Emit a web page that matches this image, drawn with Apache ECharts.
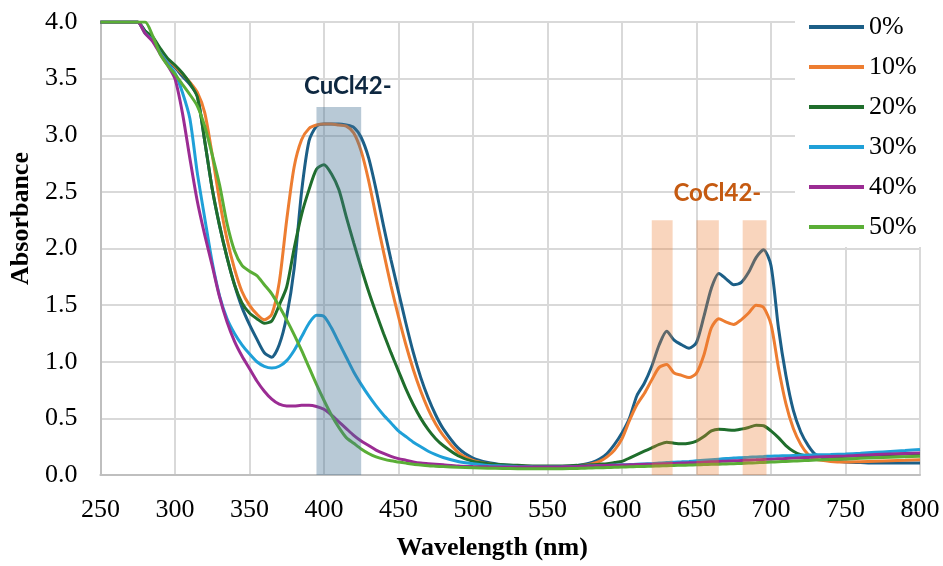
<!DOCTYPE html>
<html>
<head>
<meta charset="utf-8">
<script src="https://cdn.jsdelivr.net/npm/echarts@6/dist/echarts.min.js"></script>
<style>
  html, body { margin: 0; padding: 0; background: #fff; }
  #chart { width: 943px; height: 566px; }
</style>
</head>
<body>
<div id="chart"></div>
<script>
// wavelength (nm)
var wavelength = [
  250, 260, 270,
  275, 280, 285, 290, 295, 300, 305, 310, 315, 320,
  325, 330, 335, 340, 345, 350, 355, 360, 365, 370,
  375, 380, 385, 390, 395, 400, 405, 410, 415, 420,
  425, 430, 435, 440, 445, 450, 455, 460, 465, 470,
  475, 480,
  490, 500, 510, 520, 530, 540, 550, 560, 570,
  575, 580, 585, 590, 595, 600, 605, 610, 615, 620,
  625, 630, 635, 640, 645, 650, 655, 660, 665, 670,
  675, 680, 685, 690, 695, 700, 705, 710, 715, 720,
  725, 730,
  740, 750, 760, 770, 780, 790, 800
];

var names = ['0%', '10%', '20%', '30%', '40%', '50%'];

var abs0 = [
  4, 4, 4,
  4, 3.92, 3.86, 3.76, 3.66, 3.6, 3.52, 3.45, 3.35, 2.95,
  2.53, 2.2, 1.92, 1.68, 1.48, 1.33, 1.2, 1.08, 1.04, 1.15,
  1.4, 1.82, 2.5, 2.95, 3.08, 3.1, 3.1, 3.1, 3.09, 3.07,
  2.98, 2.8, 2.52, 2.2, 1.9, 1.62, 1.34, 1.08, 0.86, 0.68,
  0.53, 0.41,
  0.24, 0.15, 0.11, 0.09, 0.08, 0.075, 0.072, 0.075, 0.085,
  0.095, 0.11, 0.14, 0.19, 0.27, 0.37, 0.5, 0.7, 0.81, 0.96,
  1.15, 1.27, 1.19, 1.15, 1.12, 1.17, 1.4, 1.65, 1.78, 1.73,
  1.68, 1.7, 1.79, 1.92, 1.99, 1.85, 1.3, 0.88, 0.57, 0.38,
  0.26, 0.18,
  0.13, 0.115, 0.11, 0.105, 0.105, 0.105, 0.105
];

var abs10 = [
  4, 4, 4,
  4, 3.9, 3.85, 3.75, 3.67, 3.61, 3.54, 3.47, 3.38, 3.2,
  2.83, 2.42, 2.08, 1.82, 1.62, 1.5, 1.42, 1.37, 1.42, 1.7,
  2.25, 2.72, 2.96, 3.06, 3.09, 3.1, 3.1, 3.09, 3.08, 3.02,
  2.86, 2.6, 2.28, 1.97, 1.67, 1.4, 1.15, 0.93, 0.74, 0.58,
  0.45, 0.35,
  0.2, 0.13, 0.1, 0.085, 0.08, 0.075, 0.072, 0.073, 0.08,
  0.088, 0.1, 0.12, 0.16, 0.22, 0.32, 0.48, 0.62, 0.72, 0.84,
  0.95, 0.975, 0.9, 0.88, 0.86, 0.9, 1.06, 1.3, 1.38, 1.35,
  1.33, 1.37, 1.43, 1.5, 1.48, 1.33, 0.95, 0.63, 0.41, 0.27,
  0.18, 0.14,
  0.12, 0.115, 0.118, 0.122, 0.126, 0.13, 0.135
];

var abs20 = [
  4, 4, 4,
  4, 3.92, 3.87, 3.77, 3.68, 3.62, 3.55, 3.46, 3.34, 2.95,
  2.53, 2.2, 1.92, 1.68, 1.52, 1.43, 1.38, 1.34, 1.36, 1.5,
  1.66, 2.0, 2.3, 2.52, 2.7, 2.74, 2.66, 2.52, 2.28, 2.05,
  1.83, 1.62, 1.43, 1.25, 1.08, 0.92, 0.76, 0.62, 0.5, 0.4,
  0.32, 0.26,
  0.17, 0.12, 0.1, 0.09, 0.085, 0.08, 0.08, 0.08, 0.085,
  0.088, 0.09, 0.095, 0.1, 0.11, 0.12, 0.15, 0.18, 0.21, 0.24,
  0.27, 0.29, 0.28, 0.275, 0.28, 0.3, 0.34, 0.39, 0.405, 0.4,
  0.395, 0.405, 0.42, 0.44, 0.435, 0.39, 0.33, 0.26, 0.21, 0.18,
  0.17, 0.165,
  0.16, 0.165, 0.17, 0.175, 0.18, 0.185, 0.19
];

var abs30 = [
  4, 4, 4,
  4, 3.9, 3.84, 3.73, 3.64, 3.55, 3.38, 3.15, 2.67, 2.27,
  1.88, 1.58, 1.38, 1.25, 1.15, 1.07, 1.0, 0.96, 0.945, 0.96,
  1.01, 1.1, 1.22, 1.34, 1.41, 1.4, 1.3, 1.17, 1.04, 0.91,
  0.8, 0.7, 0.61, 0.53, 0.46, 0.39, 0.34, 0.29, 0.25, 0.21,
  0.18, 0.155,
  0.12, 0.1, 0.085, 0.08, 0.075, 0.072, 0.07, 0.072, 0.075,
  0.078, 0.08, 0.082, 0.085, 0.088, 0.09, 0.092, 0.095, 0.098, 0.1,
  0.105, 0.11, 0.113, 0.116, 0.12, 0.125, 0.13, 0.135, 0.14, 0.145,
  0.15, 0.153, 0.156, 0.16, 0.163, 0.166, 0.168, 0.17, 0.172, 0.174,
  0.176, 0.178,
  0.18, 0.185, 0.192, 0.2, 0.208, 0.216, 0.225
];

var abs40 = [
  4, 4, 4,
  4, 3.9, 3.83, 3.72, 3.62, 3.5, 3.2, 2.8, 2.42, 2.12,
  1.85, 1.57, 1.35, 1.18, 1.05, 0.94, 0.83, 0.74, 0.67, 0.625,
  0.61, 0.61, 0.615, 0.615, 0.605, 0.58, 0.53, 0.47, 0.41, 0.35,
  0.3, 0.26, 0.22, 0.19, 0.165, 0.145, 0.13, 0.115, 0.105, 0.1,
  0.095, 0.09,
  0.08, 0.075, 0.072, 0.07, 0.07, 0.07, 0.07, 0.072, 0.075,
  0.078, 0.08, 0.082, 0.084, 0.086, 0.088, 0.09, 0.092, 0.094, 0.096,
  0.098, 0.1, 0.102, 0.105, 0.108, 0.11, 0.113, 0.116, 0.119, 0.122,
  0.125, 0.128, 0.131, 0.134, 0.137, 0.14, 0.143, 0.146, 0.149, 0.152,
  0.155, 0.158,
  0.163, 0.168, 0.174, 0.18, 0.185, 0.19, 0.195
];

var abs50 = [
  4, 4, 4,
  4, 4, 3.88, 3.72, 3.62, 3.54, 3.45, 3.36, 3.26, 3.08,
  2.83, 2.56, 2.22, 1.98, 1.85, 1.8, 1.76, 1.68, 1.6, 1.49,
  1.37, 1.24, 1.1, 0.95, 0.8, 0.66, 0.53, 0.42, 0.33, 0.28,
  0.23, 0.19, 0.16, 0.14, 0.125, 0.115, 0.105, 0.095, 0.088, 0.082,
  0.078, 0.074,
  0.068, 0.064, 0.06, 0.058, 0.056, 0.055, 0.055, 0.056, 0.058,
  0.06, 0.062, 0.064, 0.066, 0.068, 0.07, 0.072, 0.074, 0.076, 0.078,
  0.08, 0.082, 0.084, 0.086, 0.088, 0.09, 0.092, 0.094, 0.096, 0.098,
  0.1, 0.102, 0.105, 0.108, 0.111, 0.114, 0.117, 0.12, 0.123, 0.126,
  0.129, 0.132,
  0.137, 0.142, 0.147, 0.152, 0.157, 0.161, 0.165
];

// shaded bands [from, to, top]
var cuBand = [395, 425, 3.25];
var coBands = [[620, 634, 2.25], [650, 665, 2.25], [681, 697, 2.25]];

var allAbs = [abs0, abs10, abs20, abs30, abs40, abs50];
var colors = ['#1c5f87', '#ed7d31', '#1f6e2c', '#1fa0d8', '#9b2c93', '#5aae36'];

var serif = "'Times New Roman', 'Liberation Serif', serif";

var chart = echarts.init(document.getElementById('chart'));

var series = names.map(function (n, i) {
  return {
    name: n,
    type: 'line',
    data: wavelength.map(function (w, j) { return [w, allAbs[i][j]]; }),
    showSymbol: false,
    smooth: 0.25,
    lineStyle: { width: 3, color: colors[i] },
    itemStyle: { color: colors[i] },
    z: 2
  };
});

var areas = [[
  { xAxis: cuBand[0], yAxis: 0, itemStyle: { color: 'rgba(68,114,148,0.38)' } },
  { xAxis: cuBand[1], yAxis: cuBand[2] }
]];
coBands.forEach(function (b) {
  areas.push([
    { xAxis: b[0], yAxis: 0, itemStyle: { color: 'rgba(237,125,49,0.32)' } },
    { xAxis: b[1], yAxis: b[2] }
  ]);
});

series.push({
  name: 'bands',
  type: 'line',
  data: [],
  z: 5,
  markArea: { silent: true, z: 5, data: areas },
  markPoint: {
    silent: true,
    symbol: 'circle',
    symbolSize: 0,
    label: {
      show: true,
      position: 'inside',
      formatter: '{b}',
      fontFamily: "Lato, 'Open Sans', sans-serif",
      fontWeight: 'bold',
      fontSize: 24
    },
    data: [
      { name: 'CuCl42-', coord: [416, 3.43], label: { color: '#0e2841' } },
      { name: 'CoCl42-', coord: [664, 2.49], label: { color: '#c55a11' } }
    ]
  }
});

chart.setOption({
  animation: false,
  backgroundColor: '#fff',
  grid: { left: 100, right: 23, top: 22, bottom: 89 },
  legend: {
    data: names,
    orient: 'vertical',
    left: 795,
    top: 0,
    padding: [12, 24, 5, 14],
    itemGap: 10,
    itemWidth: 55,
    itemHeight: 4,
    icon: 'rect',
    backgroundColor: '#fff',
    textStyle: { fontFamily: serif, fontSize: 26, color: '#000', lineHeight: 30 }
  },
  xAxis: {
    type: 'value',
    min: 250,
    max: 800,
    interval: 50,
    name: 'Wavelength (nm)',
    nameLocation: 'middle',
    nameGap: 60,
    nameTextStyle: { fontFamily: serif, fontSize: 26, fontWeight: 'bold', color: '#000', padding: [0, 36, 0, 0] },
    axisLine: { show: true, lineStyle: { color: '#bfbfbf', width: 2 } },
    axisTick: { show: false },
    axisLabel: { fontFamily: serif, fontSize: 26, color: '#000', margin: 22 },
    splitLine: { show: true, lineStyle: { color: '#d9d9d9', width: 2 } }
  },
  yAxis: {
    type: 'value',
    min: 0,
    max: 4,
    interval: 0.5,
    name: 'Absorbance',
    nameLocation: 'middle',
    nameGap: 63,
    nameTextStyle: { fontFamily: serif, fontSize: 26, fontWeight: 'bold', color: '#000', padding: [0, 0, 0, 60] },
    axisLine: { show: true, lineStyle: { color: '#bfbfbf', width: 2 } },
    axisTick: { show: false },
    axisLabel: {
      fontFamily: serif, fontSize: 26, color: '#000', margin: 23,
      formatter: function (v) { return v.toFixed(1); }
    },
    splitLine: { show: true, lineStyle: { color: '#d9d9d9', width: 2 } }
  },
  series: series
});
</script>
</body>
</html>
